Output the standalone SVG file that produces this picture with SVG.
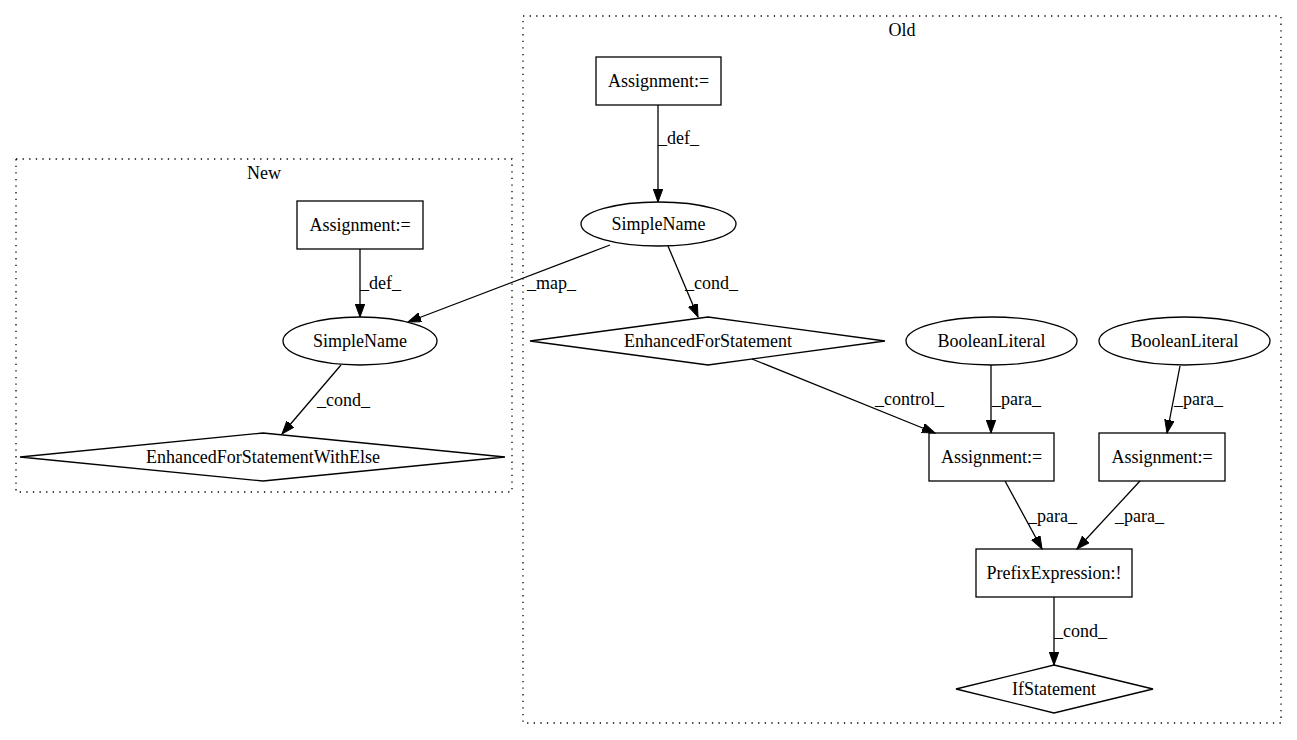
<svg xmlns="http://www.w3.org/2000/svg" width="1297" height="740" viewBox="0 0 1297 740">
<style>
text{font-family:"Liberation Serif","Times New Roman",serif;font-size:18px;fill:#000}
.c{text-anchor:middle}
.n{fill:none;stroke:#000;stroke-width:1.3}
.cl{fill:none;stroke:#000;stroke-width:1.3;stroke-dasharray:1.3,5.3}
.e{fill:none;stroke:#000;stroke-width:1.3;marker-end:url(#ah)}
</style>
<defs>
<marker id="ah" markerUnits="userSpaceOnUse" markerWidth="14" markerHeight="10" refX="13" refY="4.75" orient="auto">
<path d="M0,0 L13,4.75 L0,9.5 Z" fill="#000" stroke="#000" stroke-width="1"/>
</marker>
</defs>
<rect width="1297" height="740" fill="#fff"/>
<g id="cluster_new">
<rect class="cl" x="16" y="159" width="496" height="333"/>
<text class="c" x="264" y="179">New</text>
</g>
<g id="cluster_old">
<rect class="cl" x="523" y="16" width="758" height="707"/>
<text class="c" x="902" y="36">Old</text>
</g>
<g id="edges">
<path class="e" d="M658,105 L658,202"/>
<text x="658" y="144">_def_</text>
<path class="e" d="M610,245 L408,322"/>
<text x="527" y="289">_map_</text>
<path class="e" d="M668,246 L698,317"/>
<text x="685" y="289">_cond_</text>
<path class="e" d="M360,249 L360,317"/>
<text x="360" y="289">_def_</text>
<path class="e" d="M341,365 L282,434"/>
<text x="317" y="406">_cond_</text>
<path class="e" d="M752,359 L935,433"/>
<text x="875" y="405">_control_</text>
<path class="e" d="M991,365 L991,433"/>
<text x="992" y="405">_para_</text>
<path class="e" d="M1180,366 L1167,433"/>
<text x="1174" y="405">_para_</text>
<path class="e" d="M1005,481 L1042,549"/>
<text x="1028" y="522">_para_</text>
<path class="e" d="M1140,481 L1077,549"/>
<text x="1115" y="522">_para_</text>
<path class="e" d="M1054,597 L1054,665"/>
<text x="1054" y="637">_cond_</text>
</g>
<g id="old_assign_top">
<rect class="n" x="596" y="57" width="125" height="48"/>
<text class="c" x="658.5" y="87">Assignment:=</text>
</g>
<g id="old_simplename">
<ellipse class="n" cx="658.5" cy="224" rx="77.5" ry="22"/>
<text class="c" x="658.5" y="230">SimpleName</text>
</g>
<g id="old_enhancedfor">
<polygon class="n" points="708,317 885,341 708,365 530,341"/>
<text class="c" x="708" y="347">EnhancedForStatement</text>
</g>
<g id="new_assign">
<rect class="n" x="297" y="201" width="126" height="48"/>
<text class="c" x="360" y="231">Assignment:=</text>
</g>
<g id="new_simplename">
<ellipse class="n" cx="360" cy="341" rx="77" ry="24"/>
<text class="c" x="360" y="347">SimpleName</text>
</g>
<g id="new_enhancedforelse">
<polygon class="n" points="263,433 505,457 263,481 20,457"/>
<text class="c" x="263" y="463">EnhancedForStatementWithElse</text>
</g>
<g id="boolean1">
<ellipse class="n" cx="991.5" cy="341" rx="85.5" ry="24"/>
<text class="c" x="991.5" y="347">BooleanLiteral</text>
</g>
<g id="boolean2">
<ellipse class="n" cx="1184.5" cy="341" rx="85.5" ry="24"/>
<text class="c" x="1184.5" y="347">BooleanLiteral</text>
</g>
<g id="old_assign_mid">
<rect class="n" x="929" y="433" width="125" height="48"/>
<text class="c" x="991.5" y="463">Assignment:=</text>
</g>
<g id="old_assign_right">
<rect class="n" x="1099" y="433" width="126" height="48"/>
<text class="c" x="1162" y="463">Assignment:=</text>
</g>
<g id="prefix">
<rect class="n" x="976" y="549" width="156" height="48"/>
<text class="c" x="1054" y="579">PrefixExpression:!</text>
</g>
<g id="ifstatement">
<polygon class="n" points="1054,665 1153,689 1054,713 956,689"/>
<text class="c" x="1054" y="695">IfStatement</text>
</g>
</svg>
